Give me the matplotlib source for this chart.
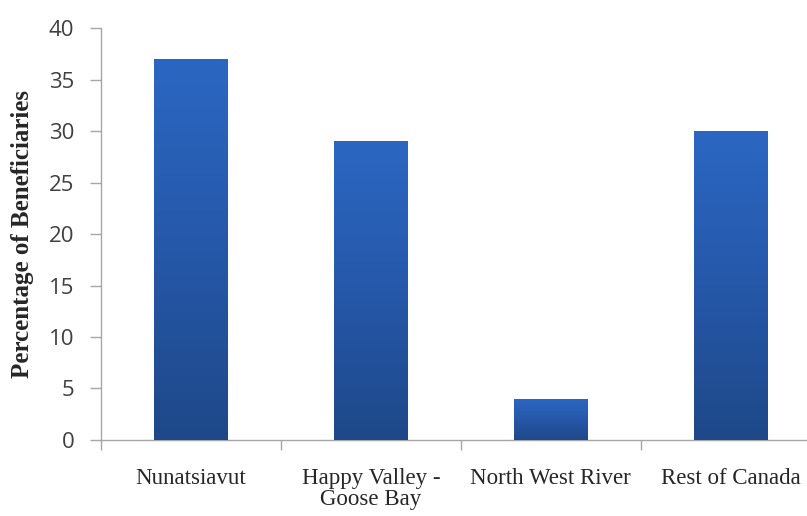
import numpy as np
import matplotlib
matplotlib.use("Agg")
import matplotlib.pyplot as plt
from matplotlib.colors import LinearSegmentedColormap

# Share of beneficiaries by place of residence
categories = ["Nunatsiavut", "Happy Valley -\nGoose Bay", "North West River", "Rest of Canada"]
percentages = [37, 29, 4, 30]
y_ticks = [0, 5, 10, 15, 20, 25, 30, 35, 40]

fig = plt.figure(figsize=(8.07, 5.16), dpi=100)
ax = fig.add_axes([0.125, 0.1473, 0.892, 0.7984])

x = np.arange(len(categories))
bars = ax.bar(x, percentages, width=0.41, color="#2659AA", zorder=2)

# Vertical gradient fill, clipped to each bar
grad = LinearSegmentedColormap.from_list("bar_grad", ["#1E4888", "#2658A9", "#2B67C2"])
g = np.linspace(0, 1, 256).reshape(-1, 1)
for b in bars:
    x0, y0 = b.get_x(), b.get_y()
    w, h = b.get_width(), b.get_height()
    im = ax.imshow(g, cmap=grad, aspect="auto", origin="lower",
                   extent=[x0, x0 + w, y0, y0 + h], zorder=3)
    im.set_clip_path(b)

ax.set_xlim(-0.5, len(categories) - 0.5)
ax.set_ylim(0, 40)

for side in ("top", "right"):
    ax.spines[side].set_visible(False)
for side in ("left", "bottom"):
    ax.spines[side].set_color("#A6A6A6")
    ax.spines[side].set_linewidth(1.0)

# Y axis
ax.set_yticks(y_ticks)
ax.tick_params(axis="y", direction="out", length=8, width=1, color="#A6A6A6",
               pad=11, labelsize=16, labelcolor="#404040")
for lbl in ax.get_yticklabels():
    lbl.set_family(["Open Sans", "DejaVu Sans"])

# X axis: ticks at category boundaries, labels centered under bars
ax.set_xticks(np.arange(-0.5, len(categories), 1.0))
ax.set_xticklabels([])
ax.tick_params(axis="x", which="major", direction="out", length=7, width=1, color="#A6A6A6")
ax.set_xticks(x, minor=True)
ax.set_xticklabels(categories, minor=True, fontsize=16.5, family="Liberation Serif",
                   color="#262626", linespacing=1.0)
ax.tick_params(axis="x", which="minor", length=0, pad=20)

ax.set_ylabel("Percentage of Beneficiaries", fontsize=18, fontweight="bold",
              family="Liberation Serif", color="#262626")
ax.yaxis.set_label_coords(-0.093, 0.5)

fig.savefig("out.png", dpi=100)
